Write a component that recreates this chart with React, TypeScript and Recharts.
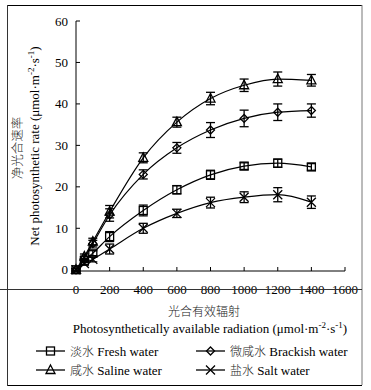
import React from "react";
import { LineChart, Line, XAxis, YAxis, ErrorBar } from "recharts";

const par = [0, 50, 100, 200, 400, 600, 800, 1000, 1200, 1400];
const fresh = [0, 2.2, 4.0, 8.0, 14.3, 19.3, 22.9, 25.0, 25.7, 24.8];
const freshErr = [0.3, 0.5, 0.6, 1.2, 1.3, 1.0, 1.1, 0.8, 1.0, 0.8];
const brackish = [0, 2.8, 6.3, 13.2, 23.0, 29.4, 33.7, 36.5, 38.0, 38.4];
const brackishErr = [0.3, 0.5, 0.8, 1.5, 1.1, 1.3, 1.8, 2.0, 2.0, 1.6];
const saline = [0, 3.2, 6.8, 14.0, 27.0, 35.6, 41.3, 44.5, 46.0, 45.7];
const salineErr = [0.3, 0.6, 0.8, 1.5, 1.2, 1.2, 1.5, 1.5, 1.7, 1.4];
const salt = [0, 1.5, 2.5, 5.0, 10.0, 13.6, 16.2, 17.5, 18.1, 16.3];
const saltErr = [0.3, 0.4, 0.6, 1.2, 1.2, 1.0, 1.3, 1.3, 1.7, 1.5];

const xTicks = [0, 200, 400, 600, 800, 1000, 1200, 1400, 1600];
const yTicks = [0, 10, 20, 30, 40, 50, 60];

const data = par.map((x, i) => ({
  x,
  fresh: fresh[i], freshErr: freshErr[i],
  brackish: brackish[i], brackishErr: brackishErr[i],
  saline: saline[i], salineErr: salineErr[i],
  salt: salt[i], saltErr: saltErr[i],
}));

const serif = "'Liberation Serif', 'Times New Roman', serif";
const cjk = "'Noto Sans CJK SC', sans-serif";

type Shape = "square" | "diamond" | "triangle" | "cross";

function Marker({ shape, cx, cy }: { shape: Shape; cx: number; cy: number }) {
  const p = { fill: "none", stroke: "#000", strokeWidth: 1.3 };
  if (shape === "square") return <rect x={cx - 4} y={cy - 4} width={8} height={8} {...p} />;
  if (shape === "diamond")
    return <path d={`M${cx},${cy - 4}L${cx + 4},${cy}L${cx},${cy + 4}L${cx - 4},${cy}Z`} {...p} />;
  if (shape === "triangle")
    return <path d={`M${cx},${cy - 5}L${cx + 4.5},${cy + 3.5}L${cx - 4.5},${cy + 3.5}Z`} {...p} />;
  return <path d={`M${cx - 4.5},${cy - 4.5}L${cx + 4.5},${cy + 4.5}M${cx - 4.5},${cy + 4.5}L${cx + 4.5},${cy - 4.5}`} {...p} />;
}

const dotFor = (shape: Shape) => (props: any) => (
  <Marker key={`${shape}-${props.index}`} shape={shape} cx={props.cx} cy={props.cy} />
);

const YTick = ({ x, y, payload }: any) => (
  <g>
    <line x1={x} x2={x + 4} y1={y} y2={y} stroke="#000" />
    <text x={x - 8} y={y + 4.5} textAnchor="end" fontFamily={serif} fontSize={13} fill="#000">
      {payload.value}
    </text>
  </g>
);

const XTick = ({ x, y, payload }: any) => (
  <g>
    <line x1={x} x2={x} y1={y} y2={y - 4} stroke="#000" />
    <text x={x} y={y + 22.5} textAnchor="middle" fontFamily={serif} fontSize={13} fill="#000">
      {payload.value}
    </text>
  </g>
);

const series: { key: string; shape: Shape }[] = [
  { key: "fresh", shape: "square" },
  { key: "brackish", shape: "diamond" },
  { key: "saline", shape: "triangle" },
  { key: "salt", shape: "cross" },
];

const legendItems: { shape: Shape; cn: string; en: string; x: number; y: number }[] = [
  { shape: "square", cn: "淡水", en: "Fresh water", x: 36, y: 351 },
  { shape: "diamond", cn: "微咸水", en: "Brackish water", x: 196, y: 351 },
  { shape: "triangle", cn: "咸水", en: "Saline water", x: 36, y: 370 },
  { shape: "cross", cn: "盐水", en: "Salt water", x: 196, y: 370 },
];

export default function App() {
  return (
    <div style={{ position: "relative", width: 371, height: 390, background: "#fff" }}>
      <style>{"body{margin:0}"}</style>
      <LineChart width={371} height={390} data={data} margin={{ top: 21, right: 26, bottom: 0, left: 0 }}>
        <XAxis
          dataKey="x"
          type="number"
          domain={[0, 1600]}
          ticks={xTicks}
          height={119}
          tickSize={0}
          tickMargin={0}
          axisLine={{ stroke: "#000" }}
          tickLine={false}
          tick={<XTick />}
          interval={0}
        />
        <YAxis
          type="number"
          domain={[0, 60]}
          ticks={yTicks}
          width={76}
          tickSize={0}
          tickMargin={0}
          axisLine={{ stroke: "#000" }}
          tickLine={false}
          tick={<YTick />}
          interval={0}
        />
        {series.map((s) => (
          <Line
            key={s.key}
            dataKey={s.key}
            type="monotone"
            stroke="#000"
            strokeWidth={1.2}
            dot={dotFor(s.shape)}
            activeDot={false}
            isAnimationActive={false}
          >
            <ErrorBar dataKey={`${s.key}Err`} direction="y" width={4.5} stroke="#000" strokeWidth={1.3} />
          </Line>
        ))}
      </LineChart>
      <svg width={371} height={390} style={{ position: "absolute", left: 0, top: 0, pointerEvents: "none" }}>
        <line x1={7} x2={362} y1={5.5} y2={5.5} stroke="#000" />
        <line x1={362} x2={362} y1={5} y2={385} stroke="#777" />
        <line x1={7} x2={362} y1={385.5} y2={385.5} stroke="#000" />
        <line x1={7.5} x2={7.5} y1={5} y2={386} stroke="#333" />
        <line x1={0} x2={362} y1={289.5} y2={289.5} stroke="#333" />
        <text transform="translate(22,148) rotate(-90)" textAnchor="middle" fontFamily={cjk} fontWeight={300} fontSize={12.5} fill="#222">
          净光合速率
        </text>
        <text transform="translate(39,146) rotate(-90)" textAnchor="middle" fontFamily={serif} fontSize={13} fill="#000">
          Net photosynthetic rate (μmol·m
          <tspan dy={-5} fontSize={9}>-2</tspan>
          <tspan dy={5}>·s</tspan>
          <tspan dy={-5} fontSize={9}>-1</tspan>
          <tspan dy={5}>)</tspan>
        </text>
        <text x={204} y={316} textAnchor="middle" fontFamily={cjk} fontWeight={300} fontSize={12} fill="#222">
          光合有效辐射
        </text>
        <text x={210} y={333} textAnchor="middle" fontFamily={serif} fontSize={13} fill="#000">
          Photosynthetically available radiation (μmol·m
          <tspan dy={-5} fontSize={9}>-2</tspan>
          <tspan dy={5}>·s</tspan>
          <tspan dy={-5} fontSize={9}>-1</tspan>
          <tspan dy={5}>)</tspan>
        </text>
        {legendItems.map((it) => (
          <g key={it.en}>
            <line x1={it.x} x2={it.x + 29} y1={it.y} y2={it.y} stroke="#000" strokeWidth={1.3} />
            <Marker shape={it.shape} cx={it.x + 14.5} cy={it.y} />
            <text x={it.x + 34} y={it.y + 4.5} fontSize={13} fill="#000">
              <tspan fontFamily={cjk} fontWeight={300} fontSize={12} fill="#222">{it.cn}</tspan>
              <tspan fontFamily={serif}> {it.en}</tspan>
            </text>
          </g>
        ))}
      </svg>
    </div>
  );
}
